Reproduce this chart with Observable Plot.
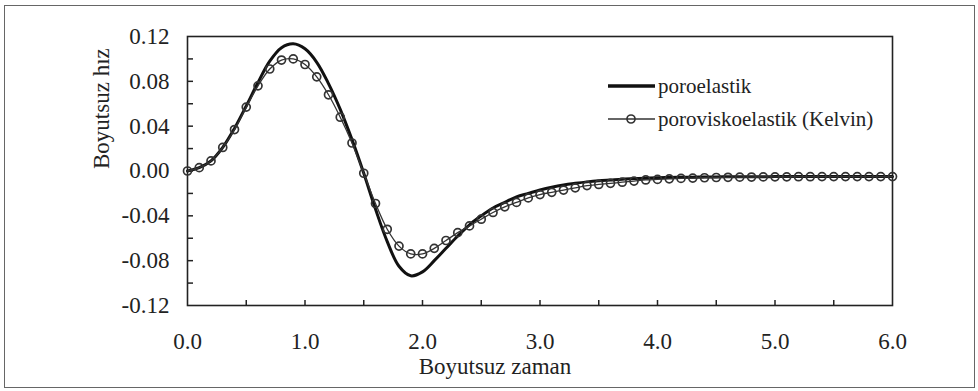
<!DOCTYPE html>
<html><head><meta charset="utf-8">
<script src="https://cdn.jsdelivr.net/npm/d3@7"></script>
<script src="https://cdn.jsdelivr.net/npm/@observablehq/plot@0.6"></script>
<style>
body{margin:0;background:#fff;}
#wrap{position:relative;width:978px;height:391px;overflow:hidden;background:#fff;}
#border{position:absolute;left:4px;top:5px;width:971px;height:383px;border:1.5px solid #666;box-sizing:border-box;}
#chart{position:absolute;left:0;top:0;}
</style></head><body>
<div id="wrap"><div id="border"></div><div id="chart"></div></div>
<script>
const time = [0.0,0.1,0.2,0.3,0.4,0.5,0.6,0.7,0.8,0.9,1.0,1.1,1.2,1.3,1.4,1.5,1.6,1.7,1.8,1.9,2.0,2.1,2.2,2.3,2.4,2.5,2.6,2.7,2.8,2.9,3.0,3.1,3.2,3.3,3.4,3.5,3.6,3.7,3.8,3.9,4.0,4.1,4.2,4.3,4.4,4.5,4.6,4.7,4.8,4.9,5.0,5.1,5.2,5.3,5.4,5.5,5.6,5.7,5.8,5.9,6.0];
const poroelastik = [0,0.003,0.009,0.021,0.038,0.058,0.079,0.098,0.110,0.1135,0.109,0.097,0.078,0.055,0.028,-0.002,-0.034,-0.063,-0.085,-0.0935,-0.090,-0.080,-0.069,-0.058,-0.048,-0.040,-0.033,-0.028,-0.023,-0.020,-0.017,-0.0145,-0.0125,-0.011,-0.0097,-0.0087,-0.008,-0.0073,-0.0068,-0.0064,-0.006,-0.0058,-0.0056,-0.0055,-0.0054,-0.0053,-0.0052,-0.0052,-0.0051,-0.0051,-0.005,-0.005,-0.005,-0.005,-0.005,-0.005,-0.005,-0.005,-0.005,-0.005,-0.005];
const kelvin = [0,0.003,0.009,0.021,0.037,0.057,0.076,0.091,0.099,0.100,0.095,0.084,0.068,0.048,0.025,-0.002,-0.029,-0.052,-0.067,-0.074,-0.074,-0.069,-0.062,-0.055,-0.049,-0.043,-0.037,-0.032,-0.028,-0.024,-0.021,-0.019,-0.017,-0.015,-0.013,-0.012,-0.011,-0.010,-0.009,-0.008,-0.0075,-0.007,-0.0066,-0.0063,-0.006,-0.0058,-0.0056,-0.0055,-0.0054,-0.0053,-0.0052,-0.0052,-0.0051,-0.0051,-0.005,-0.005,-0.005,-0.005,-0.005,-0.005,-0.005];
const seriesNames = ["poroelastik", "poroviskoelastik (Kelvin)"];
const xTicks = [0,1,2,3,4,5,6];
const xMinorTicks = [0.5,1,1.5,2,2.5,3,3.5,4,4.5,5,5.5];
const yTicks = [-0.12,-0.08,-0.04,0,0.04,0.08,0.12];
const yMinorTicks = [-0.10,-0.08,-0.06,-0.04,-0.02,0,0.02,0.04,0.06,0.08,0.10];
const xLabel = "Boyutsuz zaman";
const yLabel = "Boyutsuz hız";

const data = time.map((t, i) => ({t, p: poroelastik[i], k: kelvin[i]}));
const font = "'Liberation Serif', 'Times New Roman', 'DejaVu Serif', serif";
const W = 978, H = 391, mL = 187, mR = 86, mT = 36, mB = 86;
const frameW = W - mL - mR, frameH = H - mT - mB;

const chart = Plot.plot({
  width: W, height: H,
  marginLeft: mL, marginRight: mR, marginTop: mT, marginBottom: mB,
  style: {fontFamily: font, fontSize: "23px", color: "#222", background: "transparent"},
  x: {domain: [0, 6]},
  y: {domain: [-0.12, 0.12]},
  marks: [
    Plot.axisX({ticks: xTicks, tickSize: 0, tickPadding: 27, tickFormat: d => d.toFixed(1), label: null, fontSize: 23}),
    Plot.axisY({ticks: yTicks, tickSize: 0, tickPadding: 18, tickFormat: d => d.toFixed(2), label: null, fontSize: 23}),
    Plot.tickX(xMinorTicks, {x: d => d, insetTop: frameH - 5, stroke: "#222", strokeWidth: 1.5}),
    Plot.tickY(yMinorTicks, {y: d => d, insetRight: frameW - 6, stroke: "#222", strokeWidth: 1.5}),
    Plot.frame({stroke: "#222", strokeWidth: 1.6}),
    Plot.line(data, {x: "t", y: "p", stroke: "#111", strokeWidth: 3, curve: "catmull-rom"}),
    Plot.line(data, {x: "t", y: "k", stroke: "#333", strokeWidth: 1.3, curve: "catmull-rom"}),
    Plot.dot(data, {x: "t", y: "k", r: 4, stroke: "#333", strokeWidth: 1.7, fill: "none"}),
    Plot.text([xLabel], {text: d => d, frameAnchor: "bottom", dx: -45, dy: 68, fill: "#222", fontSize: 23}),
    Plot.text([yLabel], {text: d => d, frameAnchor: "left", rotate: -90, dx: -86, dy: -2, fill: "#222", fontSize: 23})
  ]
});
document.getElementById("chart").appendChild(chart);

// legend
const svg = d3.select(chart);
const lg = svg.append("g").attr("font-family", font).attr("font-size", 21).attr("fill", "#222").attr("text-anchor", "start");
const rows = [{y: 86, thick: true}, {y: 119, thick: false}];
rows.forEach((r, i) => {
  lg.append("line").attr("x1", 608).attr("x2", 655).attr("y1", r.y).attr("y2", r.y)
    .attr("stroke", r.thick ? "#111" : "#333").attr("stroke-width", r.thick ? 3.5 : 1.3);
  if (!r.thick) lg.append("circle").attr("cx", 631).attr("cy", r.y).attr("r", 4)
    .attr("fill", "none").attr("stroke", "#333").attr("stroke-width", 1.7);
  lg.append("text").attr("x", 658).attr("y", r.y).attr("dy", "0.32em").attr("text-anchor", "start").text(seriesNames[i]);
});
</script>
</body></html>
